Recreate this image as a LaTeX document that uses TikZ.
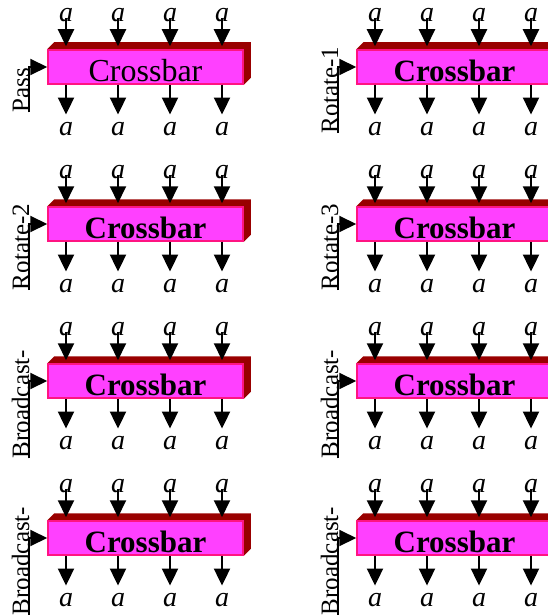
\documentclass[tikz,border=0pt]{standalone}
\usepackage{fontspec}
\setmainfont{Liberation Serif}
\usetikzlibrary{positioning,arrows.meta,backgrounds}
\definecolor{xbfill}{RGB}{255,64,255}
\definecolor{xbedge}{RGB}{255,20,130}
\definecolor{xbside}{RGB}{153,0,0}

\begin{document}
\begin{tikzpicture}[x=1pt, y=-1pt,
  xbar/.style={draw=xbedge, fill=xbfill, line width=1.5pt, minimum width=195pt,
               minimum height=34pt, inner sep=0pt, text height=29pt, text depth=0pt,
               font=\fontsize{31}{31}\selectfont},
  lbl/.style={inner sep=0pt, font=\fontsize{28}{28}\selectfont\itshape},
  ctl/.style={inner sep=0pt, rotate=90, anchor=base, font=\fontsize{25}{25}\selectfont},
  arr/.style={-{Triangle[length=17pt, width=16pt]}, line width=2pt}]
\clip (0,0) rectangle (548,615);
% one crossbar per operation
\foreach \nm/\cx/\ry/\op/\wt in {
    pass/0/50/Pass/\mdseries\fontsize{32}{32}\selectfont,
    rotA/309/50/Rotate-1/\bfseries,
    rotB/0/207/Rotate-2/\bfseries,
    rotC/309/207/Rotate-3/\bfseries,
    bcA/0/364/Broadcast-/\bfseries,
    bcB/309/364/Broadcast-/\bfseries,
    bcC/0/521/Broadcast-/\bfseries,
    bcD/309/521/Broadcast-/\bfseries}{
  \node[xbar] (\nm) at (145.5+\cx, \ry+17) {\wt Crossbar};
  \begin{scope}[on background layer]
    \fill[xbside] (\nm.north west) -- ++(7,-7) -- ([shift={(7,-7)}]\nm.north east)
      -- ([shift={(7,-7)}]\nm.south east) -- (\nm.south east) -- (\nm.north east) -- cycle;
  \end{scope}
  \node[ctl] (\nm-op) at (29+\cx, \ry+40) {\op};
  \draw[arr] (\nm-op.base west) |- (\nm.west);
  \foreach \k in {0,...,3}{
    \node[lbl] (\nm-i\k) at (66+52*\k+\cx, \ry-34.5) {a};
    \node[lbl] (\nm-o\k) at (66+52*\k+\cx, \ry+79) {a};
    \draw[arr, shorten <=-4pt, shorten >=3pt] (\nm-i\k.south) -- (\nm-i\k.south |- \nm.north);
    \draw[arr, shorten >=7.5pt] (\nm-o\k.north |- \nm.south) -- (\nm-o\k.north);
  }
}
\end{tikzpicture}
\end{document}
